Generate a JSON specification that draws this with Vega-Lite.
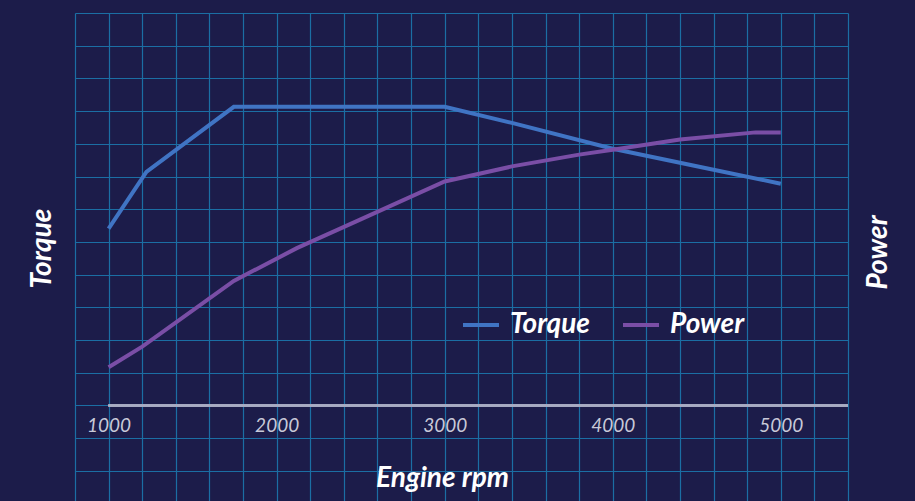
{
  "$schema": "https://vega.github.io/schema/vega-lite/v6.json",
  "width": 773,
  "height": 488,
  "autosize": "none",
  "padding": {"left": 75, "top": 13, "right": 67, "bottom": 0},
  "background": "#1c1c4a",
  "config": {"view": {"stroke": null}, "font": "Lato"},
  "data": {
    "values": [
      {"series": "Torque", "rpm": 1000, "value": 5.41},
      {"series": "Torque", "rpm": 1225, "value": 7.14},
      {"series": "Torque", "rpm": 1745, "value": 9.13},
      {"series": "Torque", "rpm": 3000, "value": 9.13},
      {"series": "Torque", "rpm": 3400, "value": 8.64},
      {"series": "Torque", "rpm": 4000, "value": 7.85},
      {"series": "Torque", "rpm": 4600, "value": 7.21},
      {"series": "Torque", "rpm": 5000, "value": 6.78},
      {"series": "Power", "rpm": 1000, "value": 1.17},
      {"series": "Power", "rpm": 1200, "value": 1.8},
      {"series": "Power", "rpm": 1745, "value": 3.81},
      {"series": "Power", "rpm": 2120, "value": 4.81},
      {"series": "Power", "rpm": 2500, "value": 5.69},
      {"series": "Power", "rpm": 3000, "value": 6.85},
      {"series": "Power", "rpm": 3400, "value": 7.31},
      {"series": "Power", "rpm": 3800, "value": 7.67},
      {"series": "Power", "rpm": 4000, "value": 7.82},
      {"series": "Power", "rpm": 4400, "value": 8.13},
      {"series": "Power", "rpm": 4850, "value": 8.35},
      {"series": "Power", "rpm": 5000, "value": 8.35}
    ]
  },
  "layer": [
    {
      "mark": {"type": "line", "strokeWidth": 4, "strokeCap": "butt"},
      "encoding": {
        "x": {
          "field": "rpm", "type": "quantitative",
          "scale": {"domain": [800, 5400], "nice": false, "zero": false},
          "axis": {
            "orient": "top",
            "values": [800,1000,1200,1400,1600,1800,2000,2200,2400,2600,2800,3000,3200,3400,3600,3800,4000,4200,4400,4600,4800,5000,5200,5400],
            "grid": true, "gridColor": "#1b6ea4", "gridWidth": 1.2, "gridOpacity": 1,
            "labels": false, "ticks": false, "domain": false, "title": null
          }
        },
        "y": {
          "field": "value", "type": "quantitative",
          "scale": {"domain": [-2.92, 12], "nice": false, "zero": false},
          "axis": {
            "orient": "left",
            "values": [-2,-1,0,1,2,3,4,5,6,7,8,9,10,11,12],
            "grid": true, "gridColor": "#1b6ea4", "gridWidth": 1.2, "gridOpacity": 1,
            "labels": false, "ticks": false, "domain": false,
            "title": "Torque",
            "titleFont": "Lato", "titleFontSize": 28, "titleFontWeight": "bold", "titleFontStyle": "italic",
            "titleColor": "#ffffff", "titleAngle": -90, "titleX": -25, "titleY": 235,
            "titleAlign": "center", "titleBaseline": "alphabetic"
          }
        },
        "color": {
          "field": "series", "type": "nominal",
          "scale": {"domain": ["Torque", "Power"], "range": ["#4074c4", "#7a4ea6"]},
          "legend": {
            "orient": "none", "legendX": 386, "legendY": 292, "direction": "horizontal",
            "title": null, "symbolType": "stroke", "symbolSize": 1296, "symbolStrokeWidth": 4,
            "labelFont": "Lato", "labelFontSize": 28, "labelFontWeight": "bold", "labelFontStyle": "italic",
            "labelColor": "#ffffff", "labelOffset": 9, "columnPadding": 25
          }
        }
      }
    },
    {
      "mark": {"type": "rule", "color": "#a9abc2", "strokeWidth": 1.5},
      "encoding": {
        "x": {
          "datum": 1000, "type": "quantitative",
          "scale": {"domain": [800, 5400], "nice": false, "zero": false},
          "axis": {
            "orient": "bottom", "offset": -95,
            "values": [1000, 2000, 3000, 4000, 5000], "format": "d",
            "grid": false, "ticks": false, "domain": false,
            "labelFont": "Lato", "labelFontSize": 19, "labelFontStyle": "italic",
            "labelColor": "#c8c9d8", "labelPadding": 10,
            "title": "Engine rpm",
            "titleFont": "Lato", "titleFontSize": 28, "titleFontWeight": "bold", "titleFontStyle": "italic",
            "titleColor": "#ffffff", "titleX": 367, "titleY": 80,
            "titleAlign": "center", "titleBaseline": "alphabetic"
          }
        },
        "x2": {"datum": 5400},
        "y": {
          "datum": 0, "type": "quantitative",
          "scale": {"domain": [-2.92, 12], "nice": false, "zero": false},
          "axis": {
            "orient": "right", "labels": false, "ticks": false, "domain": false, "grid": false,
            "title": "Power",
            "titleFont": "Lato", "titleFontSize": 28, "titleFontWeight": "bold", "titleFontStyle": "italic",
            "titleColor": "#ffffff", "titleAngle": -90, "titleX": 38, "titleY": 239,
            "titleAlign": "center", "titleBaseline": "alphabetic"
          }
        }
      }
    }
  ],
  "resolve": {"axis": {"x": "independent", "y": "independent"}}
}
